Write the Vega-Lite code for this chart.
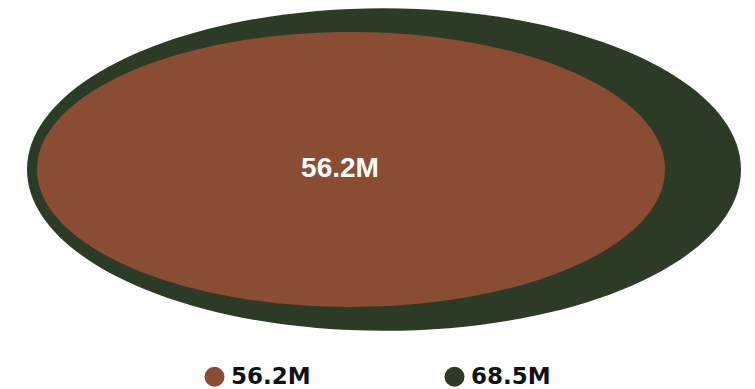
{
  "$schema": "https://vega.github.io/schema/vega-lite/v6.json",
  "width": 755,
  "height": 339,
  "padding": 0,
  "background": "white",
  "config": {"view": {"stroke": null}},
  "data": {"values": [
    {"label": "68.5M", "value": 68.5},
    {"label": "56.2M", "value": 56.2}
  ]},
  "encoding": {
    "x": {"field": "value", "type": "quantitative", "scale": {"domain": [56.2, 68.5], "range": [351, 384]}, "axis": null}
  },
  "layer": [
    {
      "mark": {"type": "point", "filled": true, "opacity": 1, "strokeWidth": 0},
      "encoding": {
        "size": {"field": "value", "type": "quantitative", "scale": {"domain": [56.2, 68.5], "range": [394384, 509796]}, "legend": null},
        "shape": {"field": "value", "type": "nominal", "scale": {"domain": [56.2, 68.5], "range": [
          "M 1 0 C 1 0.2419 0.5523 0.438 0 0.438 C -0.5523 0.438 -1 0.2419 -1 0 C -1 -0.2419 -0.5523 -0.438 0 -0.438 C 0.5523 -0.438 1 -0.2419 1 0 Z",
          "M 1 0 C 1 0.2496 0.5523 0.452 0 0.452 C -0.5523 0.452 -1 0.2496 -1 0 C -1 -0.2496 -0.5523 -0.452 0 -0.452 C 0.5523 -0.452 1 -0.2496 1 0 Z"
        ]}, "legend": null},
        "color": {"field": "label", "type": "nominal", "scale": {"domain": ["56.2M", "68.5M"], "range": ["#8A4D33", "#2C3B26"]},
          "legend": {"title": null, "orient": "none", "legendX": 203, "legendY": 365, "direction": "horizontal", "symbolType": "circle", "symbolSize": 400, "symbolStrokeWidth": 0, "symbolOpacity": 1, "labelFont": "DejaVu Sans", "labelFontWeight": "bold", "labelFontSize": 23, "labelColor": "#111111", "labelOffset": 5, "columnPadding": 132, "labelLimit": 300}}
      }
    },
    {
      "transform": [{"filter": "datum.value < 60"}],
      "mark": {"type": "text", "font": "Liberation Sans", "fontWeight": "bold", "fontSize": 28, "color": "white", "dx": -11, "dy": -1, "baseline": "middle", "align": "center"},
      "encoding": {"text": {"field": "label"}}
    }
  ]
}
